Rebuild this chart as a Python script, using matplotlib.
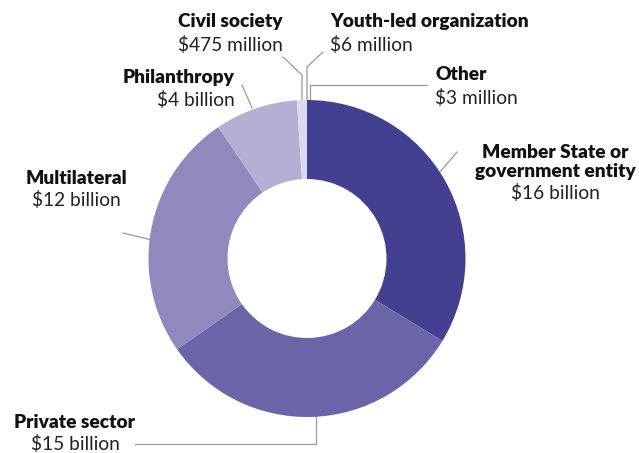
import matplotlib.pyplot as plt

# funding by source, in billions of dollars
sources = ["Member State or\ngovernment entity", "Private sector", "Multilateral",
           "Philanthropy", "Civil society", "Youth-led organization", "Other"]
amounts = [16, 15, 12, 4, 0.475, 0.006, 0.003]
amount_labels = ["$16 billion", "$15 billion", "$12 billion", "$4 billion",
                 "$475 million", "$6 million", "$3 million"]
colors = ["#433f91", "#6a64a8", "#8e8abd", "#b3b0d4", "#dcdaea", "#dcdaea", "#dcdaea"]

W, H = 639, 453
fig = plt.figure(figsize=(W / 100, H / 100), dpi=100)
ax = fig.add_axes([0, 0, 1, 1])


def py(y):
    # pixel row (from top) -> data y
    return H - y


ax.pie(amounts, colors=colors, startangle=90, counterclock=False,
       center=(307, py(258.5)), radius=158.5,
       wedgeprops=dict(width=79, linewidth=0))
ax.set_xlim(0, W)
ax.set_ylim(0, H)
ax.set_aspect("equal")
ax.axis("off")

line_kw = dict(color="#9a9a9a", linewidth=0.9, zorder=0)
# leader lines (pixel coords)
leaders = [
    [(439, 173), (457, 152)],
    [(135, 444), (316, 444), (316, 415)],
    [(123, 233), (152, 240)],
    [(242, 85), (252, 108)],
    [(283, 57), (302, 75), (302, 101)],
    [(323, 52), (307, 67), (307, 101)],
    [(427, 85), (310, 85), (310, 101)],
]
for pts in leaders:
    ax.plot([p[0] for p in pts], [py(p[1]) for p in pts], **line_kw)

# label anchors: x, y of bold line, y of value line, alignment
anchors = [
    (555, 162, 193, "center"),
    (75, 423, 444, "center"),
    (76, 178, 200, "center"),
    (235, 78, 100, "right"),
    (283, 22, 45, "right"),
    (330, 22, 45, "left"),
    (435, 75, 98, "left"),
]
fs = 13.8
for name, amt, (x, y, yv, ha) in zip(sources, amount_labels, anchors):
    ax.text(x, py(y), name, ha=ha, va="center", fontsize=fs, fontweight="heavy",
            family="Lato", color="#111111", linespacing=1.1)
    ax.text(x, py(yv), amt, ha=ha, va="center", fontsize=fs, fontweight="normal",
            family="Lato", color="#222222")

fig.savefig("out.png", dpi=100)
